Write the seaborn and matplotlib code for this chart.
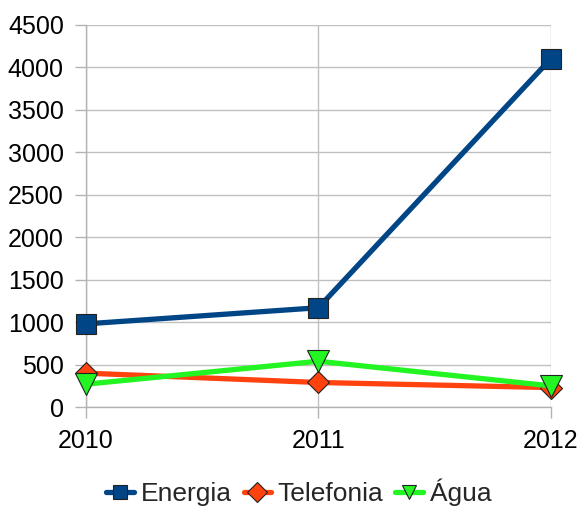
import matplotlib
matplotlib.use("Agg")
import matplotlib.pyplot as plt
import seaborn as sns
import pandas as pd

anos = [2010, 2011, 2012]
energia = [980, 1170, 4100]
telefonia = [400, 290, 230]
agua = [270, 540, 250]
series_names = ["Energia", "Telefonia", "Água"]
yticks = [0, 500, 1000, 1500, 2000, 2500, 3000, 3500, 4000, 4500]

df = pd.DataFrame({
    "Ano": anos * 3,
    "Valor": energia + telefonia + agua,
    "Serie": [series_names[0]] * 3 + [series_names[1]] * 3 + [series_names[2]] * 3,
})

sns.set_theme(style="white")
plt.rcParams["font.family"] = ["Liberation Sans", "DejaVu Sans"]

fig = plt.figure(figsize=(5.81, 5.07), dpi=100)
ax = fig.add_axes([0.148, 0.197, 0.800, 0.754])

palette = {"Energia": "#004586", "Telefonia": "#ff420e", "Água": "#22f522"}
markers = {"Energia": "s", "Telefonia": "D", "Água": "v"}
sizes_m = {"Energia": 15, "Telefonia": 11.5, "Água": 16}

for name in series_names:
    sub = df[df["Serie"] == name]
    sns.lineplot(data=sub, x="Ano", y="Valor", ax=ax, color=palette[name],
                 linewidth=3.8, marker=markers[name], markersize=sizes_m[name],
                 markeredgecolor="#222222", markeredgewidth=0.8, label=name,
                 zorder=3, clip_on=False)

ax.set_xlim(2010, 2012)
ax.set_ylim(0, 4500)
ax.set_xticks(anos)
ax.set_xticklabels([str(a) for a in anos])
ax.set_yticks(yticks)
ax.set_xlabel("")
ax.set_ylabel("")
ax.grid(True, color="#c0c0c0", linewidth=1)
for s in ["top", "right"]:
    ax.spines[s].set_visible(False)
for s in ["left", "bottom"]:
    ax.spines[s].set_color("#b3b3b3")
    ax.spines[s].set_linewidth(1)
ax.tick_params(axis="both", which="both", length=8, color="#b3b3b3", width=1,
               labelsize=18, labelcolor="black", direction="out",
               left=True, bottom=True)
ax.tick_params(axis="x", pad=8)
ax.tick_params(axis="y", pad=8)
for sp in ax.spines.values():
    sp.set_zorder(1)
ax.set_axisbelow(True)

ax.legend(loc="center", bbox_to_anchor=(0.458, -0.222), ncol=3, frameon=False,
          fontsize=19, handlelength=1.05, handletextpad=0.25, columnspacing=0.45,
          borderaxespad=0)
for h in ax.get_legend().legend_handles:
    h.set_markersize(10)

fig.savefig("out.png", dpi=100)
